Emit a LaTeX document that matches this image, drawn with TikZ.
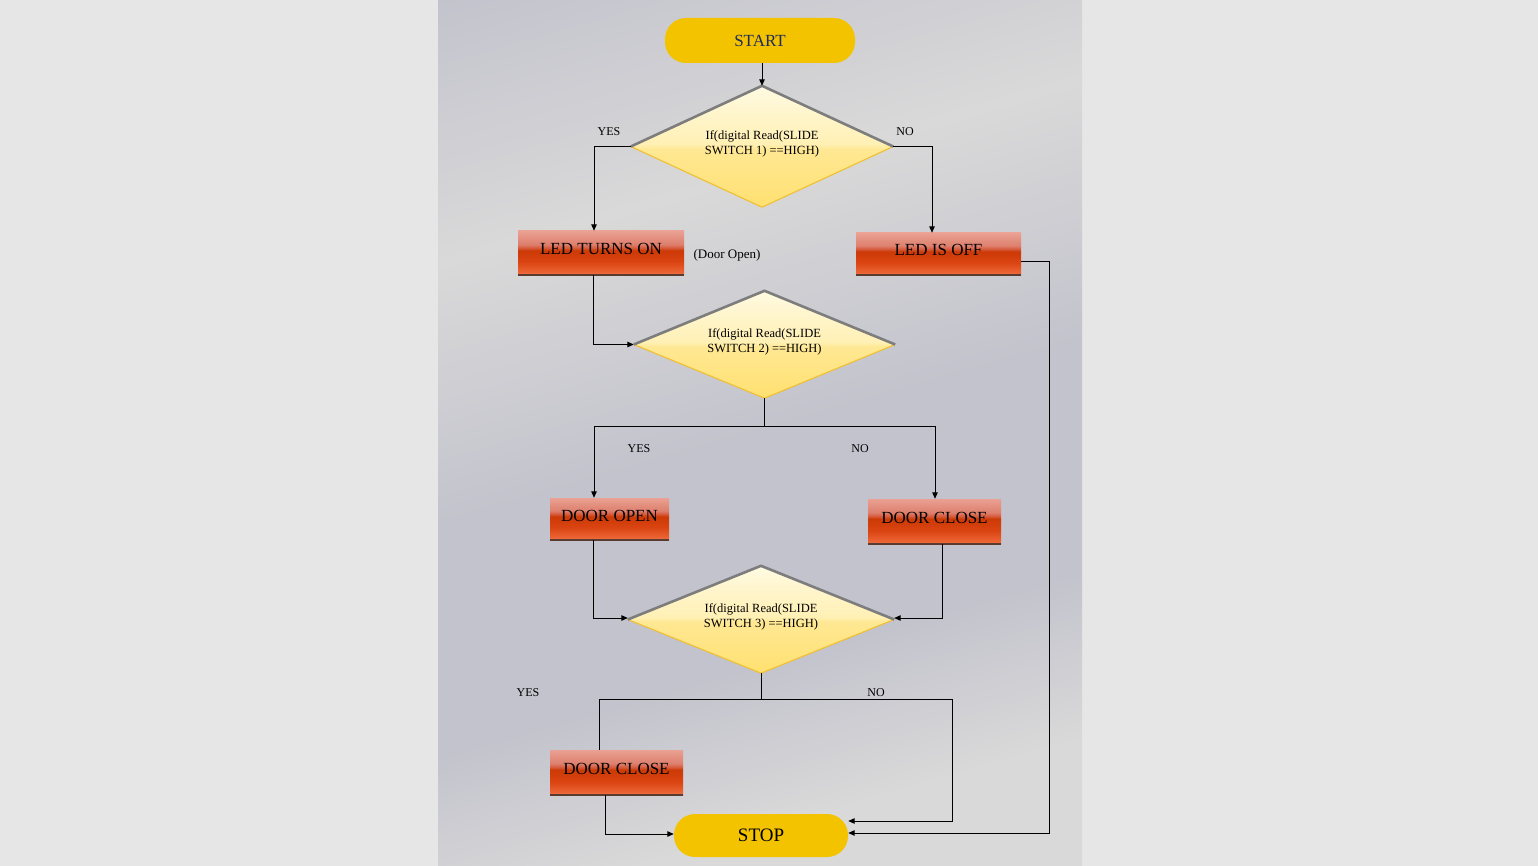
\documentclass[tikz,border=0pt]{standalone}
\usepackage{fontspec}
\setmainfont{Liberation Serif}
\usetikzlibrary{arrows.meta,shapes.geometric}
\definecolor{outerbg}{HTML}{E6E6E6}
\definecolor{bgA}{HTML}{C3C3CD}
\definecolor{bgB}{HTML}{D9D9D9}
\definecolor{gold}{HTML}{F4C300}
\definecolor{navy}{HTML}{1F2A5C}
\definecolor{bxA}{HTML}{EAA193}
\definecolor{bxB}{HTML}{DE806E}
\definecolor{bxC}{HTML}{D65C3E}
\definecolor{bxD}{HTML}{CC3A06}
\definecolor{bxE}{HTML}{DA4412}
\definecolor{bxF}{HTML}{EC6434}
\definecolor{bxG}{HTML}{F07848}
\definecolor{bxEdge}{HTML}{5A3B30}
\definecolor{dmA}{HTML}{FFE070}
\definecolor{dmB}{HTML}{FFE894}
\definecolor{dmC}{HTML}{FFF0B4}
\definecolor{dmD}{HTML}{FFFAE2}
\definecolor{dmTop}{HTML}{7D7D7D}
\definecolor{dmBot}{HTML}{F0C030}
\pgfdeclarehorizontalshading{bgfog}{100bp}{color(0bp)=(bgA); color(19bp)=(bgA); color(34.6bp)=(bgB); color(50bp)=(bgA); color(63.6bp)=(bgA); color(73.5bp)=(bgB); color(100bp)=(bgB)}
\pgfdeclareverticalshading{boxgrad}{100bp}{color(0bp)=(bxG); color(25bp)=(bxG); color(28bp)=(bxF); color(40bp)=(bxE); color(53bp)=(bxD); color(56bp)=(bxC); color(60bp)=(bxB); color(75bp)=(bxA); color(100bp)=(bxA)}
\pgfdeclareverticalshading{diagrad}{100bp}{color(0bp)=(dmA); color(25bp)=(dmA); color(49bp)=(dmB); color(51bp)=(dmC); color(75bp)=(dmD); color(100bp)=(dmD)}
\newcommand{\dtext}[2]{\raisebox{-0.5pt}[0pt][0pt]{\begin{tabular}{@{}c@{}}#1\\#2\end{tabular}}}
\begin{document}
\begin{tikzpicture}[x=1pt,y=-1pt,
  term/.style={rectangle, rounded corners=21pt, fill=gold, inner sep=0pt},
  dec/.style={diamond, shape aspect=2.2, inner sep=0pt, shade, shading=diagrad,
    font=\fontsize{12.5}{15.5}\selectfont, text height=0pt, text depth=0pt},
  proc/.style={rectangle, shade, shading=boxgrad, inner sep=0pt, text height=4pt,
    text depth=0pt, font=\fontsize{17}{20}\selectfont},
  boxedge/.style={line width=2pt, draw=bxEdge},
  dtop/.style={line width=2.6pt, draw=dmTop, line join=round},
  dbot/.style={line width=1.1pt, draw=dmBot, line join=round},
  conn/.style={line width=1pt, draw=black},
  arr/.style={conn, -{Triangle[length=6.5pt,width=5.5pt]}},
  lbl/.style={inner sep=0pt, font=\fontsize{12}{14}\selectfont}]
\useasboundingbox (0,0) rectangle (1538,866);
\fill[outerbg] (0,0) rectangle (1538,866);
\shade[shading=bgfog, shading angle=-74] (438,0) rectangle (1082,866);

% terminals
\node[term, text=navy, minimum width=190pt, minimum height=45pt,
  font=\fontsize{17}{20}\selectfont] (start) at (760,40.5) {START};
\node[term, minimum width=174pt, minimum height=43pt,
  font=\fontsize{19}{22}\selectfont] (stop) at (761,835.5) {STOP};

% decisions
\node[dec, minimum width=262pt, minimum height=121pt] (d1) at (762,146.5)
  {\dtext{If(digital Read(SLIDE}{SWITCH 1) ==HIGH)}};
\node[dec, minimum width=261pt, minimum height=107pt] (d2) at (764.5,344.5)
  {\dtext{If(digital Read(SLIDE}{SWITCH 2) ==HIGH)}};
\node[dec, minimum width=266pt, minimum height=107pt] (d3) at (761,619.5)
  {\dtext{If(digital Read(SLIDE}{SWITCH 3) ==HIGH)}};
\foreach \d in {d1,d2,d3}{
  \draw[dbot] (\d.east) -- (\d.south) -- (\d.west);
  \draw[dtop] (\d.west) -- (\d.north) -- (\d.east);
}

% process boxes
\node[proc, minimum width=166pt, minimum height=44pt] (led1) at (601,253) {LED TURNS ON};
\node[proc, minimum width=165pt, minimum height=42pt] (led2) at (938.5,254) {LED IS OFF};
\node[proc, minimum width=119pt, minimum height=42pt] (dopen) at (609.5,519) {DOOR OPEN};
\node[proc, minimum width=133pt, minimum height=45pt] (dclose) at (934.5,521.5) {DOOR CLOSE};
\node[proc, minimum width=133pt, minimum height=45pt] (dclose2) at (616.5,772.5) {DOOR CLOSE};
\foreach \b in {led1,led2,dopen,dclose,dclose2}{
  \draw[boxedge] (\b.south west) -- (\b.south east);
}

% labels
\node[lbl] (y1) at (609,132) {YES};
\node[lbl] (n1) at (905,132) {NO};
\node[lbl, font=\fontsize{13}{15}\selectfont] (dopenlbl) at (727,255) {(Door Open)};
\node[lbl] (y2) at (639,449) {YES};
\node[lbl] (n2) at (860,449) {NO};
\node[lbl] (y3) at (528,693) {YES};
\node[lbl] (n3) at (876,693) {NO};

% connectors
\draw[arr] (d1.north |- start.south) -- (d1.north);
\draw[arr] (d1.west) -| ([xshift=-7pt]led1.north);
\draw[arr] (d1.east) -| ([xshift=-6.5pt]led2.north);
\draw[arr] ([xshift=-8pt]led1.south) |- (d2.west);
\draw[arr] ([yshift=-8pt]led2.east) -- ++(28,0) |- ([yshift=2.5pt]stop.east);
\draw[conn] (d2.south) -- ++(0,28) coordinate (j2);
\draw[arr] (j2) -| ([xshift=-15.5pt]dopen.north);
\draw[arr] (j2) -| ([xshift=0.5pt]dclose.north);
\draw[arr] ([xshift=-16.5pt]dopen.south) |- ([yshift=1.5pt]d3.west);
\draw[arr] ([xshift=7.5pt]dclose.south) |- ([yshift=1.5pt]d3.east);
\draw[conn] (d3.south) -- ++(0,26) coordinate (j3);
\draw[conn] (j3) -| ([xshift=-17.5pt]dclose2.north);
\draw[arr] (j3) -- ++(191,0) |- ([yshift=14.5pt]stop.east);
\draw[arr] ([xshift=-11.5pt]dclose2.south) |- ([yshift=1.5pt]stop.west);
\end{tikzpicture}
\end{document}
